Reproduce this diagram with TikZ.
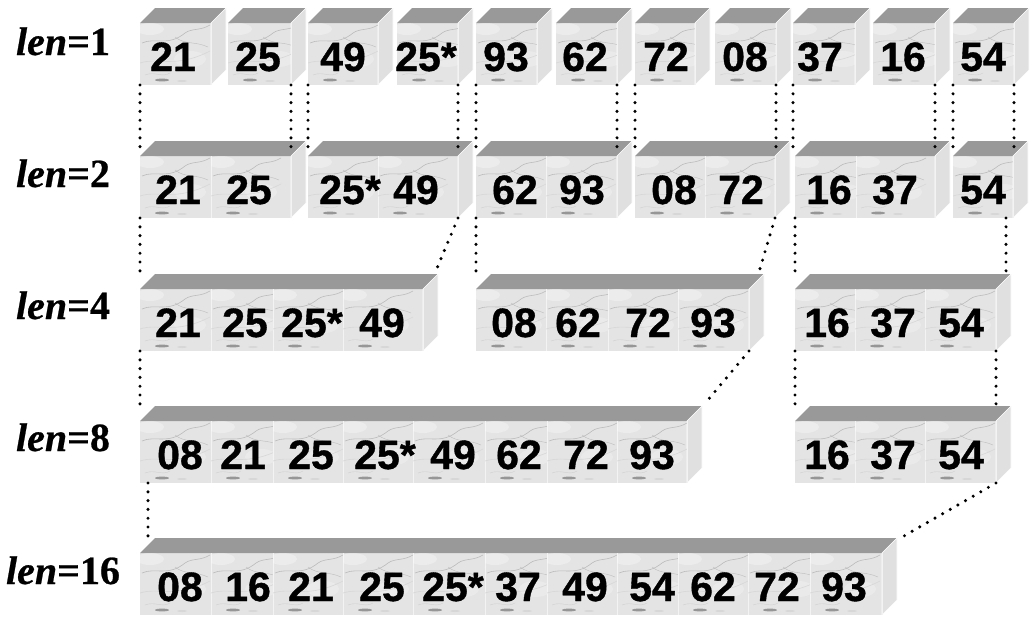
\documentclass[tikz,border=0pt]{standalone}
\usepackage{fontspec}
\setmainfont{Liberation Sans}
\newfontfamily\labfont[FakeBold=0.6]{Liberation Serif}
\newfontfamily\numfont[FakeBold=0.9]{Liberation Sans Bold}
\usetikzlibrary{calc}
\definecolor{topc}{HTML}{999999}
\definecolor{sidec}{HTML}{E0E0E0}
\definecolor{frontc}{HTML}{E4E4E4}
\definecolor{veinc}{HTML}{BCBCBC}
\tikzset{
 cubefront/.style={fill=frontc, inner sep=0pt, outer sep=0pt, rectangle},
 topface/.style={fill=topc},
 sideface/.style={fill=sidec, draw=white, line width=0.6pt},
 vein/.style={draw=veinc, line width=0.6pt},
 seam/.style={draw=white!55!frontc, line width=1pt},
 num/.style={font=\numfont\fontsize{41}{42}\selectfont, anchor=base, inner sep=0pt},
 lbl/.style={font=\labfont\bfseries\fontsize{40}{41}\selectfont, anchor=base, inner sep=0pt},
 dots/.style={line width=3.4pt, line cap=round, dash pattern=on 0pt off 8.8pt},
 marble/.pic={
  \fill[white, opacity=0.3] (10,6) ellipse (14 and 6);
  \fill[white, opacity=0.25] (50,36) ellipse (16 and 8);
  \draw[vein] (2,20) .. controls (15,14) and (28,24) .. (45,10) .. controls (52,5) and (60,8) .. (70,2);
  \draw[vein, draw=veinc!60!white] (0,40) .. controls (18,34) and (35,46) .. (70,28);
  \draw[vein, line width=0.4pt] (35,14) .. controls (45,22) and (55,18) .. (68,24);
  \draw[vein, line width=0.4pt, draw=veinc!70!white] (5,52) .. controls (15,48) and (22,55) .. (30,50);
  \fill[veinc!80!black] (22,57) ellipse (7 and 1.4);
  \fill[veinc!60!white] (42,58) ellipse (5 and 1);
 }
}
\newcommand\cubebox[5]{%
 \node[cubefront, minimum width={(#3-#2)*1pt}, minimum height=62pt, anchor=north west] (#1) at (#2,#4) {};
 \fill[topface] (#1.north west) -- ++(15,-15) -- ++({#3-#2},0) -- (#1.north east) -- cycle;
 \filldraw[sideface] (#1.north east) -- ++(15,-15) -- ++(0,62) -- (#1.south east) -- cycle;
 \foreach \a/\b/\c/\t [count=\i] in {#5} {
   \begin{scope}
     \clip (\a,#4) rectangle (\b,#4+62);
     \pic at (\a,#4) {marble};
   \end{scope}
   \draw[seam] (\b,#4) -- (\b,#4+62);
   \node[num] (#1-\i) at (\c,#4+48) {\t};
 }%
}
\begin{document}
\begin{tikzpicture}[x=1pt,y=-1pt]
\useasboundingbox (0,0) rectangle (1030,625);
% row 1
\cubebox{a1}{140}{211}{23}{140/211/173/21}
\cubebox{a2}{228}{291}{23}{228/291/258/25}
\cubebox{a3}{308}{378}{23}{308/378/343/49}
\cubebox{a4}{397}{458}{23}{397/458/426/25*}
\cubebox{a5}{476}{537}{23}{476/537/506/93}
\cubebox{a6}{556}{617}{23}{556/617/585/62}
\cubebox{a7}{635}{695}{23}{635/695/666/72}
\cubebox{a8}{715}{776}{23}{715/776/745/08}
\cubebox{a9}{793}{855}{23}{793/855/820/37}
\cubebox{a10}{873}{935}{23}{873/935/903/16}
\cubebox{a11}{953}{1014}{23}{953/1014/983/54}
% row 2
\cubebox{b1}{140}{291}{156}{140/211/178/21, 211/291/249/25}
\cubebox{b2}{308}{458}{156}{308/378/350/25*, 378/458/416/49}
\cubebox{b3}{476}{617}{156}{476/546/515/62, 546/617/582/93}
\cubebox{b4}{635}{775}{156}{635/705/674/08, 705/775/741/72}
\cubebox{b5}{795}{935}{156}{795/856/829/16, 856/935/895/37}
\cubebox{b6}{953}{1013}{156}{953/1013/983/54}
% row 3
\cubebox{c1}{140}{423}{289}{140/211/178/21, 211/273/245/25, 273/343/312/25*, 343/423/382/49}
\cubebox{c2}{476}{749}{289}{476/546/514/08, 546/608/578/62, 608/678/648/72, 678/749/713/93}
\cubebox{c3}{795}{996}{289}{795/855/827/16, 855/925/893/37, 925/996/961/54}
% row 4
\cubebox{d1}{140}{687}{421}{140/211/180/08, 211/273/243/21, 273/343/311/25, 343/413/385/25*, 413/485/453/49, 485/547/519/62, 547/617/586/72, 617/687/652/93}
\cubebox{d2}{795}{996}{421}{795/855/827/16, 855/925/893/37, 925/996/961/54}
% row 5
\cubebox{e1}{140}{882}{553}{140/211/180/08, 211/273/248/16, 273/343/311/21, 343/413/382/25, 413/485/453/25*, 485/547/518/37, 547/617/585/49, 617/678/652/54, 678/748/713/62, 748/810/777/72, 810/882/844/93}
% labels
\node[lbl] (L1) at (63,55) {\textit{len}=1};
\node[lbl] (L2) at (63,187) {\textit{len}=2};
\node[lbl] (L4) at (63,319) {\textit{len}=4};
\node[lbl] (L8) at (63,451) {\textit{len}=8};
\node[lbl] (L16) at (63,584) {\textit{len}=16};
% connectors row1 -> row2
\draw[dots] (a1.south west) -- ($(a1.south west |- b1.north)+(0,-9)$);
\draw[dots] (a2.south east) -- ($(a2.south east |- b1.north)+(0,-9)$);
\draw[dots] (a3.south west) -- ($(a3.south west |- b2.north)+(0,-9)$);
\draw[dots] (a4.south east) -- ($(a4.south east |- b2.north)+(0,-9)$);
\draw[dots] (a5.south west) -- ($(a5.south west |- b3.north)+(0,-9)$);
\draw[dots] (a6.south east) -- ($(a6.south east |- b3.north)+(0,-9)$);
\draw[dots] (a7.south west) -- ($(a7.south west |- b4.north)+(0,-9)$);
\draw[dots] (a8.south east) -- ($(a8.south east |- b4.north)+(0,-9)$);
\draw[dots] (a9.south west) -- ($(a9.south west |- b5.north)+(0,-9)$);
\draw[dots] (a10.south east) -- ($(a10.south east |- b5.north)+(0,-9)$);
\draw[dots] (a11.south west) -- ($(a11.south west |- b6.north)+(0,-9)$);
\draw[dots] (a11.south east) -- ($(a11.south east |- b6.north)+(0,-9)$);
% row2 -> row3
\draw[dots] (b1.south west) -- ($(b1.south west |- c1.north)+(0,-15)$);
\draw[dots] (b2.south east) -- ($(c1.north east)+(12,-16)$);
\draw[dots] (b3.south west) -- ($(b3.south west |- c2.north)+(0,-15)$);
\draw[dots] (b4.south east) -- ($(c2.north east)+(10,-17)$);
\draw[dots] (b5.south west) -- ($(b5.south west |- c3.north)+(0,-15)$);
\coordinate (b6r) at ($(b6.south east)+(-7,0)$);
\draw[dots] (b6r) -- ($(b6r |- c3.north)+(0,-15)$);
% row3 -> row4
\draw[dots] (c1.south west) -- ($(c1.south west |- d1.north)+(0,-9)$);
\draw[dots] (c2.south east) -- ($(d1.north east)+(20,-20)$);
\draw[dots] (c3.south west) -- ($(c3.south west |- d2.north)+(0,-9)$);
\draw[dots] (c3.south east) -- ($(c3.south east |- d2.north)+(0,-9)$);
% row4 -> row5
\coordinate (d1l) at ($(d1.south west)+(8,0)$);
\draw[dots] (d1l) -- ($(d1l |- e1.north)+(0,-16)$);
\draw[dots] (d2.south east) -- ($(e1.north east)+(15,-13)$);
\end{tikzpicture}
\end{document}
